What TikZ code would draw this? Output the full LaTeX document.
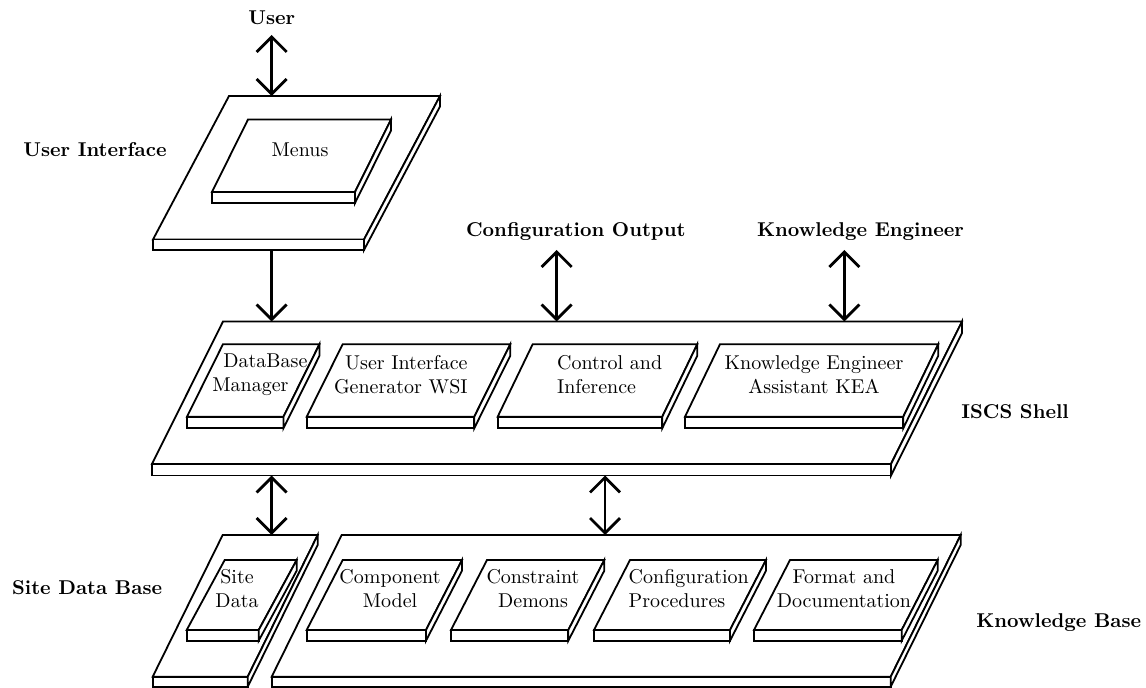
\documentclass[tikz,border=0pt]{standalone}
\usetikzlibrary{arrows.meta}
\tikzset{
  slabline/.style={draw=black, line width=0.9pt, fill=white, line join=miter},
  lbl/.style={font=\bfseries, inner sep=0pt},
  txt/.style={inner sep=0pt, align=center},
  dbl/.style={line width=1.4pt, {Straight Barb[length=7.5pt,width=15pt]}-{Straight Barb[length=7.5pt,width=15pt]}},
  sgl/.style={line width=1.4pt, -{Straight Barb[length=7.5pt,width=15pt]}}
}
% #1 x front-left, #2 y front edge, #3 width, #4 dx, #5 dy, #6 thickness, #7 name
\newcommand\slabdraw[7]{%
  \draw[slabline] (#1,#2) -- ++(#3,0) -- ++(#4,-#5) -- ++(-#3,0) -- cycle;
  \draw[slabline] (#1,#2) rectangle ++(#3,#6);
  \draw[slabline] (#1+#3,#2) -- ++(#4,-#5) -- ++(0,#6) -- ++(-#4,#5) -- cycle;
  \coordinate (#7-back) at (#1+#4,#2-#5);
  \coordinate (#7-bottom) at (#1,#2+#6);
}
\begin{document}
\begin{tikzpicture}[x=0.5pt,y=-0.5pt]
\useasboundingbox (0,0) rectangle (1146,688);

% User interface
\slabdraw{153}{239.5}{211}{76}{143.5}{10.5}{ui}
\slabdraw{212}{192}{143}{36}{72.5}{11}{menus}
\node[txt] (menustext) at (300,150) {Menus};

% ISCS shell
\slabdraw{152}{464}{739}{71}{142.5}{11.5}{shell}
\slabdraw{187}{416.7}{96.5}{36}{72.5}{11.5}{dbm}
\slabdraw{306.7}{416.7}{167.6}{36}{72.5}{11.5}{uig}
\slabdraw{497.7}{416.7}{164.6}{35}{72.5}{11.5}{ci}
\slabdraw{685}{416.7}{218.3}{35}{72.5}{11.5}{kea}
\node[txt, align=left, anchor=west] (dbmtext) at (212,375) {\hspace*{5.5pt}DataBase\\Manager};
\node[txt, align=right, anchor=east] (uigtext) at (468,375) {User Interface\\Generator WSI};
\node[txt, align=left, anchor=west] (citext) at (556.7,375) {Control and\\Inference};
\node[txt] (keatext) at (814,375) {Knowledge Engineer\\Assistant KEA};

% Site data base and knowledge base
\slabdraw{152.7}{676.7}{95}{70}{141.7}{10}{sdb}
\slabdraw{271.7}{676.7}{619}{70}{141.7}{10}{kb}
\slabdraw{186.7}{630}{72}{38}{70}{10.7}{sd}
\slabdraw{306.7}{630}{119.3}{36}{70}{10.7}{cm}
\slabdraw{451}{630}{117.3}{36}{70}{10.7}{cd}
\slabdraw{594}{630}{136}{36}{70}{10.7}{cp}
\slabdraw{754}{630}{147.7}{36}{70}{10.7}{fd}
\node[txt] (sdtext) at (237,589) {Site\\Data};
\node[txt] (cmtext) at (390,589) {Component\\Model};
\node[txt] (cdtext) at (533,589) {Constraint\\Demons};
\node[txt, align=left, anchor=west] (cptext) at (628.3,589) {Configuration\\Procedures};
\node[txt] (fdtext) at (844,589) {Format and\\Documentation};

% outside labels
\node[lbl] (user) at (271.7,18) {User};
\node[lbl, anchor=west] (uilbl) at (23,150) {User Interface};
\node[lbl] (colbl) at (575.8,232) {Configuration Output};
\node[lbl] (kelbl) at (860.5,232) {Knowledge Engineer};
\node[lbl, anchor=west] (shelllbl) at (961,411.7) {ISCS Shell};
\node[lbl, anchor=west] (sdblbl) at (11.7,588) {Site Data Base};
\node[lbl, anchor=west] (kblbl) at (976,623) {Knowledge Base};

% connectors
\coordinate (userA) at (271.7,35);
\coordinate (coA) at (556.7,250);
\coordinate (keA) at (844.3,250);
\coordinate (kbA) at (605,476);
\draw[dbl] (userA) -- (userA |- ui-back);
\draw[sgl] (userA |- ui-bottom) -- (userA |- shell-back);
\draw[dbl] (coA) -- (coA |- shell-back);
\draw[dbl] (keA) -- (keA |- shell-back);
\draw[dbl] (userA |- shell-bottom) -- (userA |- sdb-back);
\draw[dbl] (kbA |- shell-bottom) -- (kbA |- kb-back);
\end{tikzpicture}
\end{document}
